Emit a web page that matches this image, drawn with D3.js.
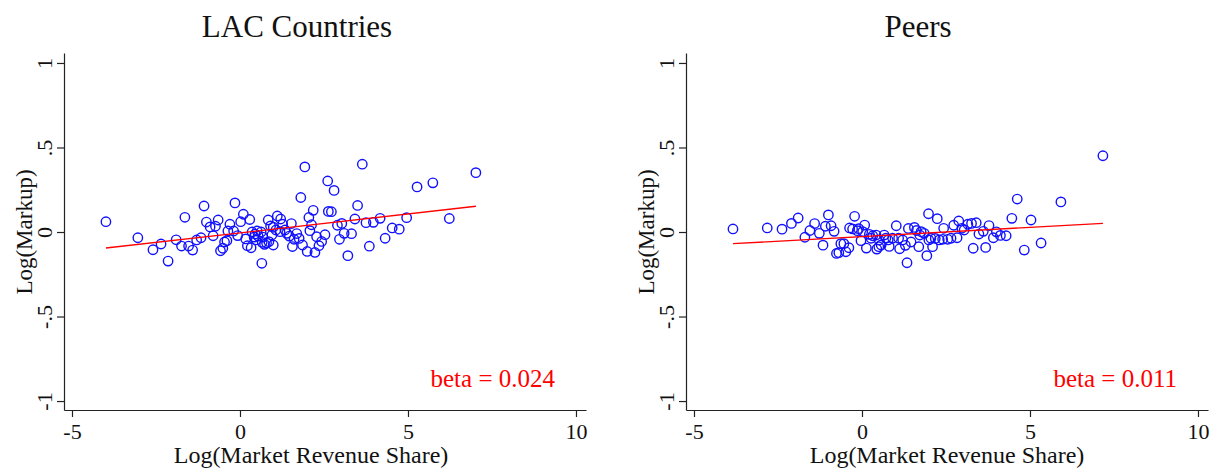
<!DOCTYPE html>
<html><head><meta charset="utf-8">
<script src="https://cdn.jsdelivr.net/npm/d3@7"></script>
<style>body{margin:0;background:#fff}svg{display:block}text{font-family:"Liberation Serif","Times New Roman",serif}</style>
</head><body><div id="chart"></div>
<script>
const panelTitles = ["LAC Countries", "Peers"];
const betaLabels = ["beta = 0.024", "beta = 0.011"];
const xTicks = [-5, 0, 5, 10];
const xTickLabels = ["-5", "0", "5", "10"];
const yTicks = [-1, -0.5, 0, 0.5, 1];
const yTickLabels = ["-1", "-.5", "0", ".5", "1"];
const xTitle = "Log(Market Revenue Share)";
const yTitle = "Log(Markup)";

const lacX = [-3.99,-3.04,-2.59,-2.35,-2.14,-1.90,-1.74,-1.64,-1.53,-1.41,-1.29,-1.16,-1.07,-1.00,-0.89,-0.80,-0.73,-0.65,-0.58,-0.51,-0.46,-0.39,-0.36,-0.30,-0.19,-0.15,-0.07,0.02,0.10,0.29,0.17,0.22,0.33,0.36,0.45,0.54,0.63,0.68,0.48,0.66,0.73,0.79,0.65,0.84,0.91,0.99,1.11,1.21,1.27,1.07,1.19,0.99,0.86,0.95,1.34,1.39,1.47,1.53,1.69,1.76,1.61,1.56,1.86,1.81,1.93,2.00,2.23,2.05,2.18,2.08,2.13,2.28,2.35,2.43,2.53,2.61,2.80,2.63,2.72,2.90,3.03,2.96,3.10,3.32,3.21,3.50,3.42,3.64,3.75,3.97,4.17,3.85,4.32,4.53,4.74,4.96,5.27,5.74,6.23,7.02,0.51,0.42];
const lacY = [0.061,-0.034,-0.105,-0.071,-0.172,-0.046,-0.083,0.087,-0.083,-0.107,-0.047,-0.034,0.154,0.059,0.030,-0.022,0.034,0.071,-0.111,-0.096,-0.059,-0.051,0.006,0.046,0.006,0.172,-0.021,0.061,0.105,0.074,-0.041,-0.081,-0.093,0.000,-0.012,-0.024,0.000,-0.030,-0.047,-0.061,-0.073,-0.065,-0.185,0.071,0.036,0.028,0.095,0.077,0.046,0.012,0.002,-0.077,-0.057,-0.018,0.012,-0.008,-0.024,0.050,-0.009,-0.038,-0.043,-0.086,-0.077,0.204,0.385,-0.115,-0.121,0.086,0.128,0.008,0.043,-0.028,-0.081,-0.056,-0.016,0.302,0.246,0.122,0.120,0.040,0.051,-0.043,-0.008,-0.010,-0.140,0.157,0.077,0.401,0.055,0.057,0.081,-0.084,-0.037,0.024,0.017,0.085,0.267,0.291,0.080,0.351,0.006,-0.030];

const peerX = [-3.84,-2.82,-2.38,-2.10,-1.90,-1.70,-1.55,-1.41,-1.27,-1.16,-1.00,-1.09,-0.92,-0.83,-0.76,-0.69,-0.63,-0.54,-0.48,-0.39,-0.37,-0.28,-0.22,-0.14,-0.10,-0.03,0.08,0.02,0.13,0.22,0.32,0.42,0.27,0.51,0.50,0.44,0.57,0.66,0.71,0.81,0.78,0.91,1.02,1.09,1.12,1.21,1.29,1.34,1.38,1.46,1.56,1.62,1.69,1.72,1.76,1.85,1.93,1.98,1.99,2.05,2.10,2.18,2.24,2.30,2.40,2.43,2.55,2.65,2.73,2.83,2.88,2.97,3.04,3.15,3.26,3.31,3.40,3.48,3.61,3.68,3.78,3.91,4.00,4.12,4.29,4.46,4.62,4.83,5.03,5.33,5.92,7.17];
const peerY = [0.018,0.024,0.017,0.051,0.083,-0.031,0.009,0.050,-0.008,-0.078,0.101,0.034,0.037,0.004,-0.127,-0.122,-0.069,-0.069,-0.117,-0.093,0.024,0.018,0.093,0.008,0.020,-0.051,0.041,0.002,-0.095,-0.014,-0.022,-0.018,-0.037,-0.047,-0.087,-0.101,-0.077,-0.018,-0.037,-0.085,-0.047,-0.037,0.037,-0.037,-0.099,-0.047,-0.079,-0.182,0.021,-0.059,0.027,0.009,-0.087,-0.018,0.002,-0.008,-0.140,0.108,-0.047,-0.037,-0.087,-0.038,0.079,-0.047,-0.043,0.022,-0.043,-0.037,0.040,-0.034,0.065,0.022,0.012,0.046,0.051,-0.096,0.055,-0.012,0.004,-0.091,0.038,-0.034,0.001,-0.020,-0.022,0.081,0.195,-0.107,0.071,-0.065,0.178,0.451];

const lacFitX = [-3.99, 7.02];
const lacFitY = [-0.095, 0.152];
const peerFitX = [-3.84, 7.17];
const peerFitY = [-0.069, 0.051];

const panels = [
  {title: panelTitles[0], beta: betaLabels[0], xs: lacX, ys: lacY, fx: lacFitX, fy: lacFitY, left: 64, titleC: 297, xtC: 311},
  {title: panelTitles[1], beta: betaLabels[1], xs: peerX, ys: peerY, fx: peerFitX, fy: peerFitY, left: 686, titleC: 918, xtC: 947}
];

const W = 1221, H = 468;
const svg = d3.select("#chart").append("svg").attr("width", W).attr("height", H);
const pw = 522, plotTop = 53, plotBottom = 410;
const serif = "Liberation Serif, Times New Roman, serif";

panels.forEach(p => {
  const x = d3.scaleLinear().domain([-5.238, 10.298]).range([p.left, p.left + pw]);
  const y = d3.scaleLinear().domain([-1.053, 1.059]).range([plotBottom, plotTop]);
  const g = svg.append("g");

  g.append("text").attr("x", p.titleC).attr("y", 37)
    .attr("text-anchor", "middle").attr("font-size", 31).attr("fill", "#111").text(p.title);

  const xa = g.append("g").attr("transform", `translate(0,${plotBottom})`)
    .call(d3.axisBottom(x).tickValues(xTicks).tickFormat((d, i) => xTickLabels[i]).tickSize(7).tickPadding(6).tickSizeOuter(0));
  xa.select(".domain").attr("stroke", "#222").attr("stroke-width", 1.2);
  xa.selectAll(".tick line").attr("stroke", "#222").attr("stroke-width", 1.2);
  xa.selectAll(".tick text").attr("font-size", 22).attr("fill", "#111").attr("font-family", serif);

  const ya = g.append("g").attr("transform", `translate(${p.left},0)`)
    .call(d3.axisLeft(y).tickValues(yTicks).tickFormat((d, i) => yTickLabels[i]).tickSize(7).tickPadding(0).tickSizeOuter(0));
  ya.select(".domain").attr("stroke", "#222").attr("stroke-width", 1.2);
  ya.selectAll(".tick line").attr("stroke", "#222").attr("stroke-width", 1.2);
  ya.selectAll(".tick text").attr("font-size", 22).attr("fill", "#111").attr("font-family", serif)
    .attr("x", null).attr("dy", null)
    .attr("text-anchor", "middle")
    .attr("transform", "translate(-12,0) rotate(-90)");

  g.append("text").attr("x", p.xtC).attr("y", 463)
    .attr("text-anchor", "middle").attr("font-size", 24).attr("fill", "#111").text(xTitle);
  g.append("text").attr("transform", `translate(${p.left - 32},${y(0)}) rotate(-90)`)
    .attr("text-anchor", "middle").attr("font-size", 23).attr("fill", "#111").text(yTitle);

  g.append("g").selectAll("circle").data(p.xs.map((v, i) => [v, p.ys[i]])).join("circle")
    .attr("cx", d => x(d[0])).attr("cy", d => y(d[1])).attr("r", 4.7)
    .attr("fill", "none").attr("stroke", "#1010ff").attr("stroke-width", 1.4);

  g.append("line").attr("x1", x(p.fx[0])).attr("y1", y(p.fy[0]))
    .attr("x2", x(p.fx[1])).attr("y2", y(p.fy[1]))
    .attr("stroke", "#ff0000").attr("stroke-width", 1.4);

  g.append("text").attr("x", p.left + 491).attr("y", 387)
    .attr("text-anchor", "end").attr("font-size", 25).attr("fill", "#ff0000").text(p.beta);
});
</script></body></html>
